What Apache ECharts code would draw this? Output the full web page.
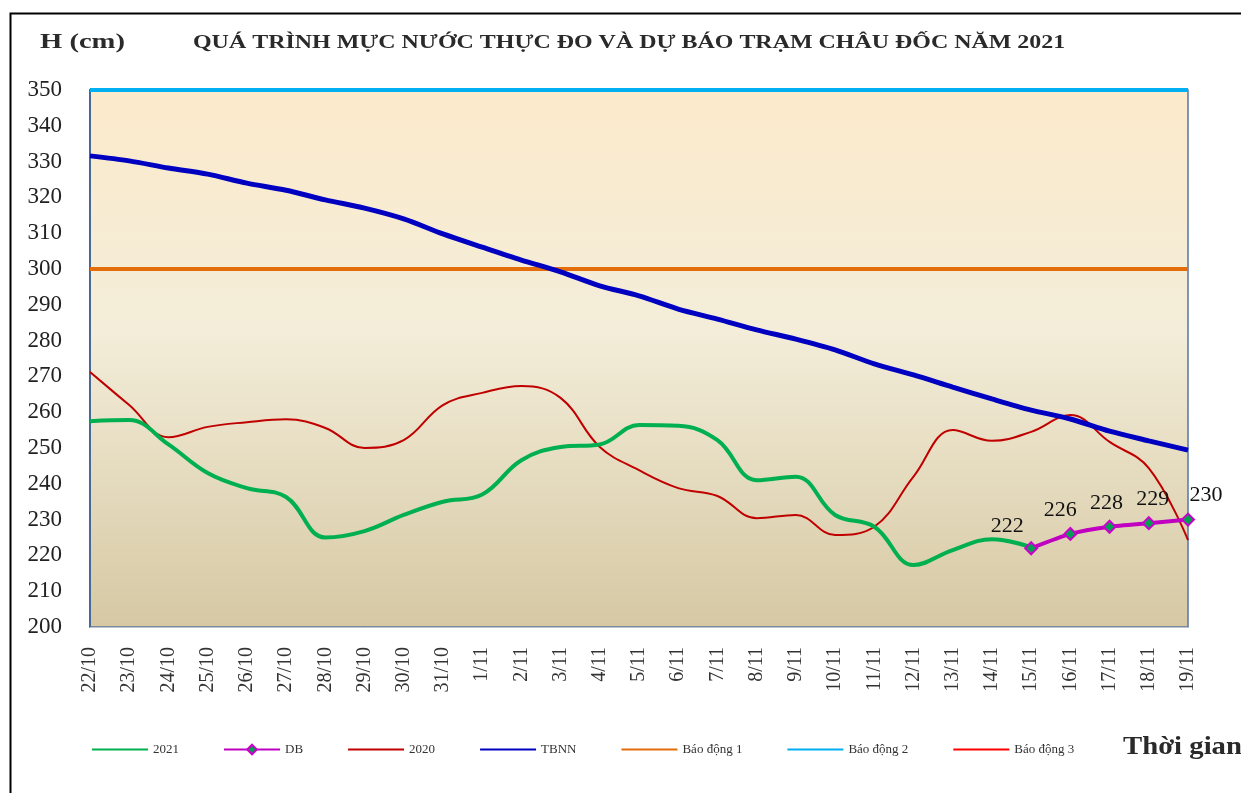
<!DOCTYPE html>
<html><head><meta charset="utf-8">
<script src="https://cdn.jsdelivr.net/npm/echarts@6/dist/echarts.min.js"></script>
<style>html,body{margin:0;padding:0;background:#fff}#c{width:1241px;height:793px}</style>
</head><body><div id="c"></div>
<script>
const categories = ['22/10','23/10','24/10','25/10','26/10','27/10','28/10','29/10','30/10','31/10','1/11','2/11','3/11','4/11','5/11','6/11','7/11','8/11','9/11','10/11','11/11','12/11','13/11','14/11','15/11','16/11','17/11','18/11','19/11'];
const data2021 = [257.5,257.8,251,243,238.8,236.3,225,226.8,231.3,235,237,246.6,250.3,251,256.4,256.2,252.2,241,242,231.3,228,217.3,221.5,224.5,222.3,null,null,null,null];
const dataDB = [null,null,null,null,null,null,null,null,null,null,null,null,null,null,null,null,null,null,null,null,null,null,null,null,222,226,228,229,230];
const data2020 = [271.2,262,253,255.9,257.2,258,255.6,250,252.2,262,265.4,267.3,264,250.3,243.8,238.8,236.6,230.4,231.3,225.7,228,242,255,252,254.5,259.2,251.7,244.4,224.3];
const dataTBNN = [331.6,330.2,328.2,326.5,324,322,319.3,317,314,309.8,306.1,302.5,299.2,295.3,292.5,288.8,286,283,280.4,277.4,273.5,270.4,267,263.7,260.6,258.1,254.7,252,249.4];
const alarm1 = 300, alarm2 = 350;
const yTicks = {min:200, max:350, interval:10};
const legendNames = ['2021','DB','2020','TBNN','Báo động 1','Báo động 2','Báo động 3'];
const dbLabelOffsets = [[-24,2],[-10,0],[-3,0],[4,0],[18,0]];

const serif = '"Liberation Serif","Times New Roman",serif';
const chart = echarts.init(document.getElementById('c'));
const dbData = dataDB.map((v,i)=>{
  if(v==null) return null;
  const k = i - 24;
  return {value:v, label:{offset:dbLabelOffsets[k]||[0,0]}};
});
function txt(x,y,text,font,sx){
  return {type:'text',x:x,y:y,scaleX:sx,originX:0,originY:0,silent:true,
    style:{text:text,font:font,fill:'#2a2a2a',verticalAlign:'middle',align:'left'}};
}
chart.setOption({
  animation:false,
  textStyle:{fontFamily:serif},
  graphic:[
    {type:'rect',left:8,top:11,shape:{width:1240,height:790},style:{fill:'none',stroke:'#000',lineWidth:2},silent:true},
    txt(40,42,'H (cm)','bold 22px '+serif,1.3),
    txt(193,43,'QUÁ TRÌNH MỰC NƯỚC THỰC ĐO VÀ DỰ BÁO TRẠM CHÂU ĐỐC NĂM 2021','bold 18px '+serif,1.33),
    txt(1123,748,'Thời gian','bold 25px '+serif,1.15)
  ],
  legend:{
    left:86, top:738, itemWidth:56, itemHeight:12, itemGap:44,
    textStyle:{fontFamily:serif,fontSize:13,color:'#333'},
    itemStyle:{opacity:0},
    data:legendNames.map(n=> n==='DB' ? {name:n,itemStyle:{opacity:1}} : {name:n})
  },
  grid:{left:90,right:53,top:90,bottom:166,show:true,borderColor:'#5A76A0',borderWidth:1.5,
    backgroundColor:{type:'linear',x:0,y:0,x2:0,y2:1,colorStops:[
      {offset:0,color:'#FCEACB'},{offset:0.45,color:'#F3EDD9'},{offset:1,color:'#D6C8A3'}]}},
  xAxis:{type:'category',boundaryGap:false,data:categories,
    axisLine:{show:true,lineStyle:{color:'#BFC4CC',width:1}},
    axisTick:{show:false},
    axisLabel:{rotate:90,interval:0,margin:20,fontFamily:serif,fontSize:20,color:'#333'},
    splitLine:{show:false}},
  yAxis:{type:'value',min:yTicks.min,max:yTicks.max,interval:yTicks.interval,
    axisLine:{show:true,lineStyle:{color:'#4A6896',width:2}},
    axisTick:{show:false},
    axisLabel:{margin:28,fontFamily:serif,fontSize:23,color:'#222'},
    splitLine:{show:false}},
  series:[
    {name:'2021',type:'line',data:data2021,smooth:0.4,showSymbol:false,symbol:'none',
      lineStyle:{color:'#00B050',width:4},itemStyle:{color:'#00B050'},z:4},
    {name:'DB',type:'line',data:dbData,smooth:0.2,symbol:'diamond',symbolSize:12,showSymbol:true,
      lineStyle:{color:'#C000C0',width:4},itemStyle:{color:'#00A050',borderColor:'#CC00CC',borderWidth:2},
      label:{show:true,position:'top',distance:6,fontFamily:serif,fontSize:22,color:'#111'},z:6},
    {name:'2020',type:'line',data:data2020,smooth:0.4,symbol:'none',
      lineStyle:{color:'#C00000',width:2},itemStyle:{color:'#C00000'},z:3},
    {name:'TBNN',type:'line',data:dataTBNN,smooth:0.3,symbol:'none',
      lineStyle:{color:'#0000C0',width:5},itemStyle:{color:'#0000C0'},z:5},
    {name:'Báo động 1',type:'line',data:categories.map(()=>alarm1),symbol:'none',
      lineStyle:{color:'#E46C0A',width:4},itemStyle:{color:'#E46C0A'},z:2},
    {name:'Báo động 2',type:'line',data:categories.map(()=>alarm2),symbol:'none',
      lineStyle:{color:'#00B0F0',width:4},itemStyle:{color:'#00B0F0'},z:2},
    {name:'Báo động 3',type:'line',data:[],symbol:'none',
      lineStyle:{color:'#FF0000',width:2},itemStyle:{color:'#FF0000'},z:2}
  ]
});
</script></body></html>
